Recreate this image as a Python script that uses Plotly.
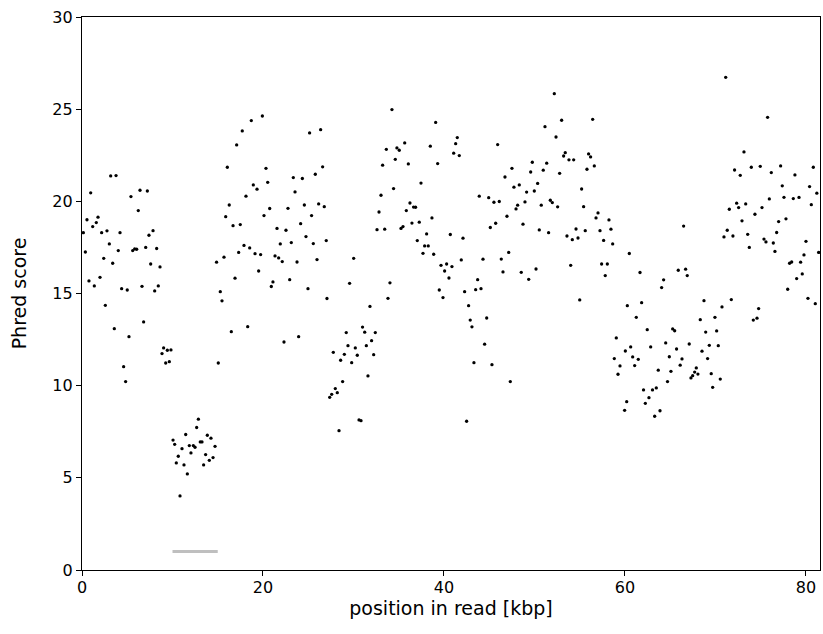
import plotly.graph_objects as go

# position in read [kbp]
pos_kbp = [
    3.17, 3.76, 0.96, 5.41, 6.41, 7.22, 6.22, 1.77, 0.55, 1.58, 1.18, 0.15, 2.17, 2.76, 4.2, 7.85, 7.4, 3.02, 0.37, 5.6,
    5.82, 6.04, 7.04, 8.25, 4.01, 2.4, 3.39, 7.59, 8.62, 0.77, 1.99,
    1.36, 4.38, 5.0, 6.63, 8.43, 8.03, 2.58, 6.81, 3.57, 5.19, 9.02, 9.43, 9.83, 8.84, 9.25, 9.65, 4.6, 4.82,
    12.86, 12.67, 11.46, 10.06, 10.24, 11.05, 11.86, 12.3, 12.49, 13.07, 13.26, 12.04, 10.64, 10.42, 11.27, 13.44, 11.64, 10.83,
    13.85, 14.25, 14.7, 13.66, 14.48, 14.07, 15.28, 15.47, 16.5, 18.31, 15.06, 22.32, 23.94, 20.92, 24.97, 27.07,
    19.93, 18.71, 17.71, 17.09, 25.15, 26.37, 16.06, 20.33, 26.59, 23.35, 24.35, 25.78, 18.93, 19.34, 20.52, 18.12, 23.54,
    16.27, 24.57, 26.15, 26.77, 15.88, 20.74, 22.76, 20.11, 25.37, 16.69, 17.49, 24.16, 21.55, 22.54, 24.75, 26.99, 21.91,
    23.13, 25.56, 17.9, 18.53, 17.31, 14.87, 15.69, 19.12, 19.74, 21.33, 21.73, 22.13, 23.76, 25.97, 19.52, 16.91, 21.1, 22.95,
    34.25, 39.08, 35.66, 33.63, 34.8, 35.06, 38.49, 34.62, 33.22, 36.06, 39.3, 34.43, 37.46, 33.04, 36.24, 32.82, 35.84,
    36.64, 36.86, 38.67, 35.25, 35.47, 36.46, 37.27, 32.6, 33.45, 38.08, 37.05, 37.86, 38.26, 37.68, 38.86, 39.67, 40.29,
    40.07, 30.02, 29.57, 34.03,
    33.81, 39.48, 39.89, 31.82, 31.0, 29.2, 31.24, 32.41, 32.0, 29.39, 30.2, 31.42, 27.77, 28.99, 30.42, 32.23, 28.58, 29.8,
    31.6, 28.8, 27.99, 28.21, 27.59, 27.37, 30.61, 30.83, 28.4,
    52.19, 53.0, 51.16, 52.38, 41.47, 41.29, 45.93, 41.07, 41.69, 53.4, 53.22, 53.81, 54.33, 49.76, 51.35, 47.51, 49.58,
    50.97, 52.78, 46.74, 47.73, 48.32, 50.35, 49.13, 49.98, 43.9, 44.94, 45.52, 46.11, 48.95, 48.14, 47.96, 50.75, 51.75,
    51.97, 52.56, 46.96, 45.71, 45.12, 48.73, 50.53, 51.56, 53.59, 54.18, 40.7, 42.1, 47.15, 41.91, 44.31, 46.33, 54.0,
    40.88, 46.52, 48.54, 50.17, 40.55, 43.72, 49.36,
    42.28, 43.5, 44.09, 42.72, 42.9, 44.72, 43.09, 44.49, 43.31, 45.3, 47.33, 42.5,
    56.43, 55.98, 56.2, 56.61, 55.8, 55.21, 55.43, 57.02, 56.8, 58.23, 58.45, 54.59, 55.61, 57.24, 54.81, 57.64, 58.64,
    60.48, 66.48, 57.42, 58.05, 57.82, 61.66, 64.27, 65.89, 66.7, 66.88,
    64.05, 55.0, 60.26, 61.84, 61.25, 62.46, 65.27, 65.49, 59.04, 60.63, 60.04, 62.84, 64.5, 67.1, 65.7, 58.82, 60.85,
    61.47, 64.9, 66.3, 59.45, 61.07, 66.1, 59.23, 63.68, 65.08, 67.88, 67.7, 67.48, 67.29, 64.7, 62.05, 63.04, 63.46,
    62.65, 62.25, 60.19, 59.96, 63.87, 63.28,
    71.13, 75.76, 73.15, 72.11, 72.74, 73.96, 74.95, 76.17, 77.2, 78.78, 80.81, 77.38, 80.4, 81.2, 75.95, 77.57, 78.6,
    79.23, 71.53, 72.34, 72.56, 73.34, 75.14, 80.59, 74.36, 72.93, 76.98, 77.79, 71.3, 70.94, 71.93, 73.56, 76.76, 75.36,
    75.58, 76.39, 73.74, 80.0, 76.57, 81.4, 79.78, 78.19, 78.42, 79.41, 79.59, 78.97,
    77.98, 80.22, 81.03, 68.73, 71.75, 70.72, 74.77, 74.59, 74.18, 68.32, 69.94, 68.92, 70.13, 68.51, 69.32, 70.31, 69.13,
    68.06, 69.53, 70.53, 69.69,
]

# Phred score
phred = [
    21.38, 21.4, 20.46, 20.26, 20.6, 20.56, 19.5, 19.14, 19.0, 18.85, 18.63, 18.3, 18.3, 18.4, 18.3, 18.41, 18.16, 17.69, 17.25, 17.33,
    17.42, 17.4, 17.5, 17.44, 17.33, 16.91, 16.64, 16.6, 16.44, 15.68, 15.88,
    15.41, 15.26, 15.19, 15.39, 15.41, 15.14, 14.36, 13.46, 13.09, 12.66, 12.05, 11.92, 11.94, 11.74, 11.23, 11.3, 11.03, 10.22,
    8.18, 7.73, 7.35, 7.05, 6.82, 6.58, 6.75, 6.75, 6.66, 6.95, 6.95, 6.35, 6.17, 5.81, 5.7, 5.7, 5.21, 4.02,
    7.31, 7.15, 6.71, 6.26, 6.1, 5.95, 15.1, 14.6, 12.93, 13.2, 11.23, 12.37, 12.66, 15.38, 15.26, 14.73,
    24.63, 24.38, 23.82, 23.06, 23.71, 23.89, 21.85, 21.79, 21.87, 21.29, 21.24, 21.47, 20.89, 20.66, 21.03, 20.28, 20.51,
    19.8, 19.8, 19.86, 19.71, 19.17, 19.61, 19.62, 19.23, 19.23, 18.68, 18.74, 18.79, 18.53, 18.43, 18.09, 17.87, 17.69,
    17.76, 17.71, 17.61, 17.47, 17.23, 16.7, 16.97, 17.16, 17.11, 17.04, 16.93, 16.73, 16.71, 16.84, 16.22, 15.83, 15.63, 15.75,
    24.98, 24.28, 23.17, 22.82, 22.9, 22.77, 22.99, 22.28, 21.96, 22.03, 22.05, 20.69, 20.99, 20.33, 19.91, 19.42, 19.5,
    19.69, 19.68, 19.1, 18.53, 18.63, 18.82, 18.87, 18.46, 18.49, 18.23, 17.87, 17.58, 17.58, 17.18, 17.13, 16.53, 16.6,
    16.22, 16.91, 15.55, 15.58,
    14.74, 15.19, 14.78, 14.3, 13.18, 12.88, 12.9, 12.88, 12.44, 12.17, 12.05, 12.17, 11.81, 11.7, 11.65, 11.68, 11.38, 11.25,
    10.53, 10.22, 9.84, 9.62, 9.53, 9.37, 8.14, 8.1, 7.56,
    25.84, 24.4, 24.05, 23.49, 23.46, 23.13, 23.08, 22.61, 22.48, 22.64, 22.46, 22.25, 22.25, 22.12, 22.07, 21.79, 21.59,
    21.69, 21.52, 21.32, 20.77, 20.89, 20.97, 20.5, 20.56, 20.28, 20.2, 19.95, 19.99, 19.97, 19.79, 19.59, 19.79, 20.06,
    19.93, 19.7, 19.19, 18.81, 18.58, 18.76, 18.45, 18.3, 18.12, 17.92, 18.2, 18.0, 17.23, 16.82, 16.86, 16.87, 16.53,
    16.46, 16.17, 16.15, 16.33, 15.84, 15.75, 15.77,
    15.1, 15.21, 15.26, 14.34, 13.56, 13.67, 13.19, 12.25, 11.25, 11.14, 10.22, 8.07,
    24.45, 22.57, 22.41, 21.92, 21.74, 20.67, 19.71, 19.37, 19.1, 18.99, 18.49, 18.5, 18.41, 18.41, 18.01, 17.88, 17.69,
    17.17, 18.66, 16.6, 16.6, 15.97, 16.14, 15.74, 16.26, 16.32, 15.97,
    15.32, 14.65, 14.34, 14.5, 13.71, 13.04, 13.08, 12.98, 12.59, 12.1, 11.88, 12.1, 12.32, 12.26, 11.99, 11.47, 11.56,
    11.43, 11.57, 11.45, 11.07, 11.09, 11.11, 10.62, 10.84, 10.78, 10.96, 10.74, 10.54, 10.42, 10.22, 9.77, 9.77, 9.88,
    9.35, 9.04, 9.13, 8.66, 8.64, 8.34,
    26.73, 24.56, 22.68, 21.7, 21.41, 21.85, 21.9, 21.56, 21.92, 21.43, 21.85, 20.84, 20.8, 20.44, 20.13, 20.22, 20.15,
    20.21, 19.57, 19.9, 19.66, 19.86, 19.66, 19.82, 19.3, 18.94, 18.9, 19.05, 18.43, 18.07, 18.12, 18.21, 18.31, 17.95,
    17.8, 17.74, 17.5, 17.83, 17.28, 17.23, 17.09, 16.64, 16.71, 16.7, 16.06, 15.81,
    15.23, 14.74, 14.45, 14.61, 14.67, 14.27, 14.18, 13.66, 13.56, 13.58, 13.71, 12.91, 12.97, 11.87, 12.19, 12.17, 11.47,
    10.63, 10.65, 10.36, 9.91,
]

# grey marker bar (region)
bar_x = [10, 15]
bar_y = [1, 1]

x_ticks = [0, 20, 40, 60, 80]
y_ticks = [0, 5, 10, 15, 20, 25, 30]

fig = go.Figure()
fig.add_trace(go.Scatter(x=bar_x, y=bar_y, mode="lines",
                         line=dict(color="#bfbfbf", width=3), showlegend=False, hoverinfo="skip"))
fig.add_trace(go.Scatter(x=pos_kbp, y=phred, mode="markers",
                         marker=dict(color="black", size=3.3, line=dict(width=0)), showlegend=False))

font = dict(family="DejaVu Sans", size=16, color="black")
fig.update_layout(
    width=823, height=634,
    margin=dict(l=82, r=3, t=17, b=64),
    paper_bgcolor="white", plot_bgcolor="white",
    font=font,
    xaxis=dict(range=[0, 81.55], tickvals=x_ticks, ticks="outside", ticklen=5, tickwidth=1.2,
               tickcolor="black", showline=True, linecolor="black", linewidth=1.2, mirror=True,
               showgrid=False, zeroline=False, automargin=True, ticklabelstandoff=-2,
               title=dict(text="position in read [kbp]", standoff=0),
               tickfont=font),
    yaxis=dict(range=[0, 30], tickvals=y_ticks, ticks="outside", ticklen=5, tickwidth=1.2,
               tickcolor="black", showline=True, linecolor="black", linewidth=1.2, mirror=True,
               showgrid=False, zeroline=False, automargin=False,
               title=dict(text="Phred score", standoff=20),
               tickfont=font),
)
# remove the browser's default 8px page margin so the figure sits at the page origin
fig.write_html("out.html", config={"displayModeBar": False},
               post_script="document.body.style.margin='0';document.body.style.overflow='hidden';")
